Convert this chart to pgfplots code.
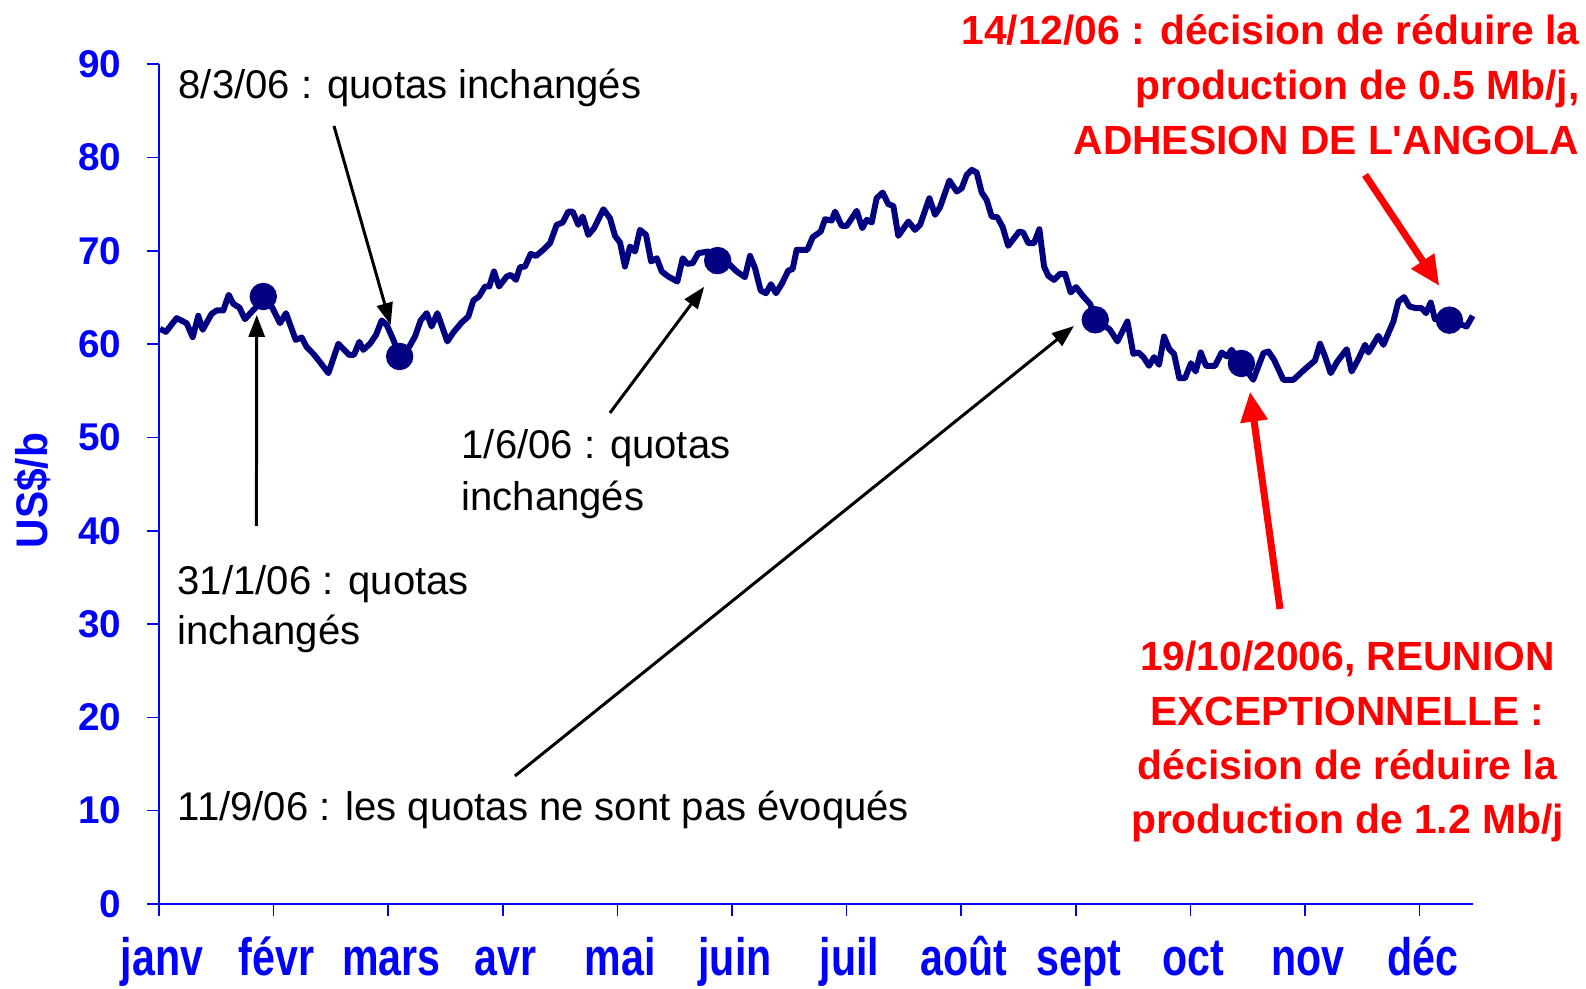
\documentclass[border=0pt]{standalone}
\usepackage{fontspec}
\setmainfont{Liberation Sans}
\newfontfamily\monthfont[FakeStretch=0.78]{Liberation Sans Bold}
\newfontfamily\ylabfont[FakeStretch=0.92]{Liberation Sans Bold}
\usepackage{pgfplots}
\pgfplotsset{compat=1.18}
\usetikzlibrary{arrows.meta}
\definecolor{navy}{RGB}{0,0,128}
\definecolor{axblue}{RGB}{0,0,255}
\definecolor{annred}{RGB}{255,0,0}
% apostrophe droite (sans la conversion en apostrophe typographique)
\newcommand{\apos}{\XeTeXglyph\XeTeXcharglyph"0027\relax}

\begin{document}
\begin{tikzpicture}
\begin{axis}[
  x=11.46mm, y=0.933mm,
  xmin=0, xmax=11.47, ymin=0, ymax=90,
  axis x line*=bottom, axis y line*=left,
  axis line style={axblue, line width=0.5pt},
  tick style={axblue, line width=0.45pt},
  tick align=outside, major tick length=1.2mm,
  ytick={0,10,...,90},
  xtick={0,...,11},
  xticklabels={janv,févr,mars,avr,mai,juin,juil,août,sept,oct,nov,déc},
  /pgf/number format/assume math mode=true,
  yticklabel style={font=\bfseries\fontsize{11}{12}\selectfont, text=axblue, inner sep=0pt, xshift=-2.5mm},
  xticklabel style={font=\monthfont\fontsize{15}{18}\selectfont, text=axblue, anchor=base, yshift=-6.0mm, xshift=0.3mm},
  clip=false]
  % prix du baril
  \addplot[navy, line width=1.7pt, line join=round, no markers] coordinates {
    (0.009,61.64) (0.061,61.32) (0.154,62.79) (0.241,62.25) (0.294,60.75) (0.343,63.04)
    (0.381,61.54) (0.459,63.25) (0.503,63.61) (0.561,63.61) (0.608,65.29) (0.649,64.32)
    (0.701,63.93) (0.750,62.68) (0.852,64.04) (0.910,64.93) (0.983,64.04) (1.056,62.25)
    (1.108,63.32) (1.193,60.46) (1.245,60.71) (1.289,59.68) (1.347,58.96) (1.405,58.07)
    (1.478,56.89) (1.565,60.04) (1.658,58.86) (1.702,58.86) (1.748,60.25) (1.783,59.39)
    (1.841,60.04) (1.894,61.00) (1.943,62.54) (1.987,62.07) (2.045,60.46) (2.097,58.80)
    (2.176,59.57) (2.234,60.82) (2.283,62.54) (2.336,63.32) (2.379,61.89) (2.429,63.32)
    (2.516,60.29) (2.568,61.25) (2.641,62.32) (2.699,62.96) (2.743,64.68) (2.792,65.11)
    (2.845,66.18) (2.882,66.18) (2.923,67.79) (2.967,66.18) (3.034,67.25) (3.069,67.43)
    (3.115,66.89) (3.150,68.25) (3.194,68.32) (3.243,69.68) (3.290,69.46) (3.353,70.11)
    (3.412,70.82) (3.470,72.79) (3.522,73.04) (3.572,74.21) (3.610,74.21) (3.659,72.79)
    (3.697,73.68) (3.746,71.71) (3.796,72.43) (3.878,74.46) (3.935,73.50) (3.979,71.61)
    (4.023,70.89) (4.066,68.32) (4.110,70.46) (4.154,69.93) (4.197,72.25) (4.250,71.71)
    (4.294,68.86) (4.343,69.21) (4.387,67.79) (4.444,67.25) (4.523,66.71) (4.570,69.21)
    (4.610,68.61) (4.657,68.68) (4.706,69.75) (4.793,69.93) (4.840,67.85) (4.900,69.40)
    (4.983,68.50) (5.041,67.79) (5.113,67.18) (5.157,69.46) (5.201,68.14) (5.250,65.75)
    (5.297,65.46) (5.340,66.43) (5.384,65.46) (5.434,66.46) (5.491,67.89) (5.529,68.04)
    (5.564,70.11) (5.657,70.11) (5.704,71.46) (5.774,72.07) (5.812,73.39) (5.870,73.25)
    (5.899,74.21) (5.957,72.68) (6.001,72.68) (6.088,74.29) (6.137,72.43) (6.175,73.32)
    (6.219,73.04) (6.262,75.64) (6.315,76.25) (6.364,75.00) (6.408,74.82) (6.451,71.61)
    (6.539,73.14) (6.597,72.25) (6.641,72.79) (6.722,75.64) (6.772,73.86) (6.815,74.68)
    (6.897,77.54) (6.961,76.36) (7.004,76.71) (7.048,78.14) (7.092,78.68) (7.135,78.39)
    (7.179,76.25) (7.222,75.46) (7.266,73.68) (7.315,73.61) (7.362,72.54) (7.410,70.54)
    (7.506,72.07) (7.541,71.96) (7.586,70.82) (7.635,70.82) (7.682,72.32) (7.723,68.32)
    (7.760,67.32) (7.810,66.89) (7.862,67.54) (7.906,67.54) (7.955,65.54) (8.002,66.11)
    (8.066,65.11) (8.124,64.32) (8.176,62.80) (8.240,62.10) (8.298,61.54) (8.363,60.29)
    (8.450,62.43) (8.502,58.96) (8.546,59.11) (8.590,58.61) (8.639,57.68) (8.683,58.61)
    (8.726,57.79) (8.770,60.82) (8.816,59.46) (8.857,58.96) (8.903,56.36) (8.953,56.36)
    (9.005,57.96) (9.046,57.07) (9.090,59.11) (9.136,57.68) (9.215,57.68) (9.273,59.11)
    (9.320,58.68) (9.359,59.39) (9.445,58.00) (9.548,56.18) (9.637,59.04) (9.681,59.21)
    (9.730,58.32) (9.811,56.18) (9.899,56.18) (9.986,57.18) (10.087,58.25) (10.131,60.04)
    (10.175,58.68) (10.224,56.89) (10.282,58.14) (10.364,59.46) (10.407,57.07) (10.465,58.39)
    (10.524,59.93) (10.553,59.11) (10.640,60.89) (10.684,59.93) (10.771,62.43) (10.815,64.57)
    (10.864,65.04) (10.911,64.04) (10.969,63.86) (11.018,63.86) (11.056,63.32) (11.097,64.46)
    (11.134,62.68) (11.259,62.60) (11.410,61.89) (11.463,63.04)};
  % dates des reunions
  \addplot[only marks, mark=*, mark size=1.3mm, navy, mark options={fill=navy}] coordinates {
    (0.910,65.11) (2.100,58.68) (4.875,68.96) (8.170,62.61) (9.445,57.93) (11.260,62.57)};

  \node[rotate=90, font=\ylabfont\fontsize{12.6}{14}\selectfont, text=axblue] at (axis cs:-1.10,44.3) {US\$/b};

  % annotations noires
  \begin{scope}[every node/.style={anchor=base west, font=\fontsize{11.4}{13}\selectfont, inner sep=0pt}]
    \node at (axis cs:0.166,86.28) {8/3/06 : quotas inchangés};
    \node at (axis cs:0.157,33.12) {31/1/06 : quotas};
    \node at (axis cs:0.157,27.76) {inchangés};
    \node at (axis cs:2.635,47.70) {1/6/06 : quotas};
    \node at (axis cs:2.635,42.12) {inchangés};
    \node at (axis cs:0.157,8.90) {11/9/06 : les quotas ne sont pas évoqués};
  \end{scope}
  \begin{scope}[line width=0.85pt, -{Triangle[length=2.2mm,width=1.6mm]}]
    \draw (axis cs:0.850,40.51) -- (axis cs:0.853,63.13);
    \draw (axis cs:1.527,83.39) -- (axis cs:2.022,62.06);
    \draw (axis cs:3.935,52.63) -- (axis cs:4.758,66.16);
    \draw (axis cs:3.106,13.72) -- (axis cs:7.984,61.95);
  \end{scope}

  % annotations rouges
  \begin{scope}[every node/.style={font=\bfseries\fontsize{11.6}{14}\selectfont, text=annred, inner sep=0pt}]
    \node[anchor=base east] at (axis cs:12.40,92.12) {14/12/06 : décision de réduire la};
    \node[anchor=base east] at (axis cs:12.40,86.17) {production de 0.5 Mb/j,};
    \node[anchor=base east] at (axis cs:12.40,80.28) {ADHESION DE L\apos ANGOLA};
    \node[anchor=base] at (axis cs:10.37,25.03) {19/10/2006, REUNION};
    \node[anchor=base] at (axis cs:10.37,19.18) {EXCEPTIONNELLE :};
    \node[anchor=base] at (axis cs:10.37,13.29) {décision de réduire la};
    \node[anchor=base] at (axis cs:10.37,7.50) {production de 1.2 Mb/j};
  \end{scope}
  \begin{scope}[annred, line width=2pt, -{Triangle[length=3mm,width=2.6mm]}]
    \draw (axis cs:10.524,78.14) -- (axis cs:11.172,66.24);
    \draw (axis cs:9.782,31.62) -- (axis cs:9.520,54.91);
  \end{scope}

  \coordinate (bbSW) at (axis cs:-1.3874,-9.11);
  \coordinate (bbNE) at (axis cs:12.452,96.89);
\end{axis}
\pgfresetboundingbox
\path[use as bounding box] (bbSW) rectangle (bbNE);
\end{tikzpicture}
\end{document}
